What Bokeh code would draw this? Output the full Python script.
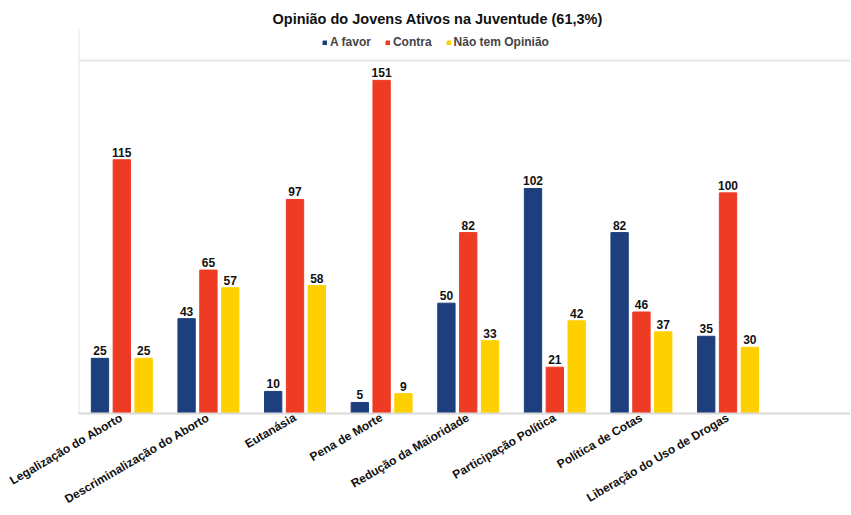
import math
from bokeh.plotting import figure
from bokeh.core.properties import value
from bokeh.models import ColumnDataSource, LabelSet, Legend, LegendItem, Span, FixedTicker
from bokeh.transform import dodge
from bokeh.embed import file_html
from bokeh.resources import INLINE

categories = ["Legalização do Aborto", "Descriminalização do Aborto", "Eutanásia",
              "Pena de Morte", "Redução da Maioridade", "Participação Política",
              "Política de Cotas", "Liberação do Uso de Drogas"]
a_favor = [25, 43, 10, 5, 50, 102, 82, 35]
contra = [115, 65, 97, 151, 82, 21, 46, 100]
nao_tem = [25, 57, 58, 9, 33, 42, 37, 30]
series_names = ["A favor", "Contra", "Não tem Opinião"]
colors = ["#1d3f7e", "#ee3b23", "#ffd000"]

xs = [i + 0.5 for i in range(len(categories))]
src = ColumnDataSource(dict(x=xs, fav=a_favor, con=contra, nao=nao_tem,
                            fav_t=[str(v) for v in a_favor],
                            con_t=[str(v) for v in contra],
                            nao_t=[str(v) for v in nao_tem]))

Y_END = 174.5
p = figure(width=850, height=515, x_range=(0, 8.914), y_range=(0, Y_END),
           output_backend="svg", toolbar_location=None,
           min_border_left=78, min_border_right=0, min_border_top=28,
           min_border_bottom=20)
p.outline_line_color = None
p.xgrid.visible = False
p.ygrid.visible = False
p.yaxis.visible = False
p.background_fill_color = "white"
p.border_fill_color = "white"

fields = ["fav", "con", "nao"]
offsets = [-0.252, 0.0, 0.252]
renderers = []
for f, off, c in zip(fields, offsets, colors):
    r = p.vbar(x=dodge("x", off), top=f, width=0.2, source=src,
               fill_color=c, line_color=c)
    renderers.append(r)
    lbl = LabelSet(x=dodge("x", off), y=f, text=f + "_t", source=src,
                   text_align="center", text_baseline="bottom", y_offset=3,
                   text_font=value("Liberation Sans"), text_font_style="bold",
                   text_font_size="12px", text_color="#111111",
                   background_fill_color="white")
    p.add_layout(lbl)

p.add_layout(Span(location=160, dimension="width", line_color="#e3e6ea", line_width=2))
p.add_layout(Span(location=0, dimension="height", line_color="#e3e6ea", line_width=2))

ax = p.xaxis[0]
ax.ticker = FixedTicker(ticks=xs)
ax.major_label_overrides = {x: c for x, c in zip(xs, categories)}
ax.major_label_orientation = 0.53
ax.major_tick_line_color = None
ax.major_tick_out = 0
ax.major_tick_in = 0
ax.minor_tick_line_color = None
ax.axis_line_color = "#d9d9d9"
ax.axis_line_width = 2
ax.major_label_text_font = "Liberation Sans"
ax.major_label_text_font_style = "bold"
ax.major_label_text_font_size = "12px"
ax.major_label_text_color = "#111111"
ax.major_label_standoff = 3

legend = Legend(items=[LegendItem(label=n, renderers=[r]) for n, r in zip(series_names, renderers)],
                orientation="horizontal", location=(244, 364),
                glyph_width=5, glyph_height=5, label_text_font="Liberation Sans",
                label_text_font_style="bold", label_text_font_size="12px",
                label_standoff=3, spacing=14, padding=2, margin=0,
                border_line_color=None, background_fill_alpha=0, label_height=12)
p.add_layout(legend)

p.title.text = "Opinião  do Jovens Ativos na Juventude (61,3%)"
p.title.align = "left"
p.title.offset = 194
p.title.standoff = 4
p.title.text_font = "Liberation Sans"
p.title.text_font_style = "bold"
p.title.text_font_size = "14.5px"
p.title.text_color = "#111111"

open("out.html", "w").write(file_html(p, INLINE))
